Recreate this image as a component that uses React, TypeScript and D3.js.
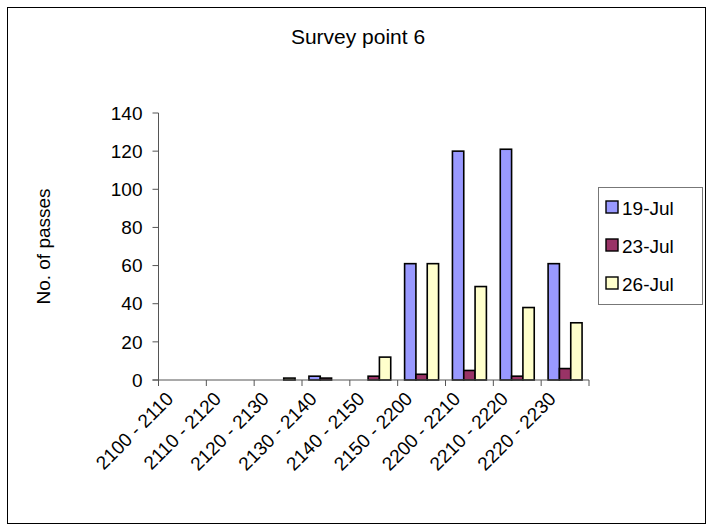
import React from "react";
import * as d3 from "d3";

// Categories: time bands along the x axis
const categories = [
  "2100 - 2110",
  "2110 - 2120",
  "2120 - 2130",
  "2130 - 2140",
  "2140 - 2150",
  "2150 - 2200",
  "2200 - 2210",
  "2210 - 2220",
  "2220 - 2230",
];

// Series names and their pass counts per time band
const seriesNames = ["19-Jul", "23-Jul", "26-Jul"];
const jul19 = [0, 0, 0, 2, 0, 61, 120, 121, 61];
const jul23 = [0, 0, 0, 1, 2, 3, 5, 2, 6];
const jul26 = [0, 0, 1, 0, 12, 61, 49, 38, 30];
const seriesValues = [jul19, jul23, jul26];
const seriesColors = ["#9999FF", "#993366", "#FFFFCC"];

const yTicks = [0, 20, 40, 60, 80, 100, 120, 140];

const W = 710;
const H = 530;
const FONT = "Liberation Sans, Arial, sans-serif";

export default function App() {
  const plotLeft = 158.5;
  const plotRight = 589;
  const plotTop = 113;
  const plotBottom = 380;

  const x = d3.scaleBand<string>().domain(categories).range([plotLeft, plotRight]).padding(0);
  const step = x.step();
  const inner = d3
    .scaleBand<string>()
    .domain(seriesNames)
    .range([step * 0.145, step * 0.855])
    .padding(0);
  const y = d3.scaleLinear().domain([0, 140]).range([plotBottom, plotTop]);

  const tickEdges = d3.range(categories.length + 1).map((i) => plotLeft + i * step);

  return (
    <svg
      width={W}
      height={H}
      style={{ position: "absolute", left: 0, top: 0, background: "#fff" }}
      fontFamily={FONT}
    >
      <rect x={7.5} y={7.5} width={698} height={516} fill="#fff" stroke="#000" strokeWidth={1} />

      <text x={358} y={44} textAnchor="middle" fontSize={21} fill="#000">
        Survey point 6
      </text>

      {/* bars */}
      {seriesNames.map((name, si) =>
        seriesValues[si].map((v, ci) => {
          if (v <= 0) return null;
          const bx = (x(categories[ci]) as number) + (inner(name) as number);
          return (
            <rect
              key={name + ci}
              x={bx}
              y={y(v)}
              width={inner.bandwidth()}
              height={plotBottom - y(v)}
              fill={seriesColors[si]}
              stroke="#000"
              strokeWidth={1.6}
            />
          );
        })
      )}

      {/* y axis */}
      <line x1={plotLeft} x2={plotLeft} y1={plotTop} y2={plotBottom} stroke="#555" strokeWidth={1} />
      {yTicks.map((t) => (
        <g key={t}>
          <line x1={plotLeft - 6} x2={plotLeft} y1={y(t)} y2={y(t)} stroke="#555" strokeWidth={1} />
          <text x={plotLeft - 16} y={y(t)} dy="0.35em" textAnchor="end" fontSize={19} fill="#000">
            {t}
          </text>
        </g>
      ))}

      {/* x axis */}
      <line x1={plotLeft - 6} x2={plotRight} y1={plotBottom} y2={plotBottom} stroke="#555" strokeWidth={1} />
      {tickEdges.map((tx, i) => (
        <line key={i} x1={tx} x2={tx} y1={plotBottom} y2={plotBottom + 6} stroke="#555" strokeWidth={1} />
      ))}
      {categories.map((c) => {
        const cx = (x(c) as number) + step / 2 - 8;
        const cy = plotBottom + 20;
        return (
          <text
            key={c}
            x={cx}
            y={cy}
            textAnchor="end"
            fontSize={19}
            fill="#000"
            transform={`rotate(-45, ${cx}, ${cy})`}
          >
            {c}
          </text>
        );
      })}

      {/* y axis title */}
      <text
        x={0}
        y={0}
        transform={`translate(50, ${(plotTop + plotBottom) / 2}) rotate(-90)`}
        textAnchor="middle"
        fontSize={19}
        fill="#000"
      >
        No. of passes
      </text>

      {/* legend */}
      <rect x={598.5} y={187.5} width={104} height={117} fill="#fff" stroke="#777" strokeWidth={1} />
      {seriesNames.map((name, i) => {
        const ly = 208 + i * 38;
        return (
          <g key={name}>
            <rect x={606} y={ly - 7} width={12} height={12} fill={seriesColors[i]} stroke="#000" strokeWidth={1.4} />
            <text x={622} y={ly} dy="0.35em" fontSize={19} fill="#000">
              {name}
            </text>
          </g>
        );
      })}
    </svg>
  );
}
